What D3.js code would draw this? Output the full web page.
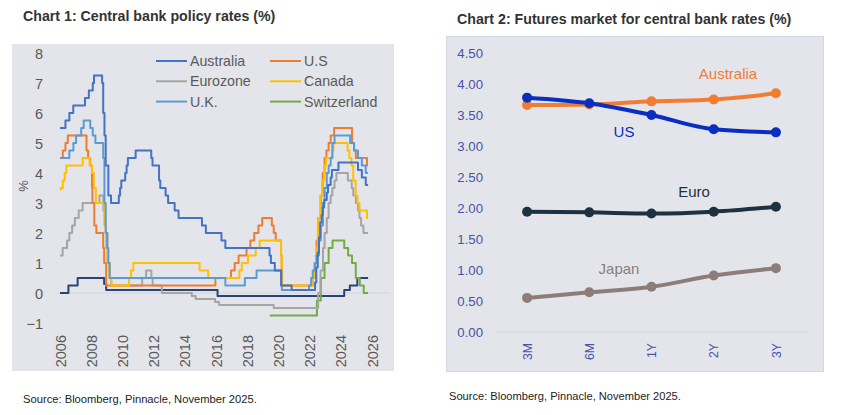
<!DOCTYPE html>
<html><head><meta charset="utf-8">
<script src="https://cdn.jsdelivr.net/npm/d3@7"></script>
<style>body{margin:0;background:#fff;font-family:"Liberation Sans",Arial,sans-serif}</style>
</head><body>
<svg id="c" width="842" height="415"></svg>
<script>
// ---------- Chart 1 data: [decimal year, policy rate %] (step changes) ----------
const australia = [[2006.0,5.5],[2006.35,5.75],[2006.6,6.0],[2006.85,6.25],[2007.6,6.5],[2007.85,6.75],[2008.1,7.0],[2008.18,7.25],[2008.7,7.0],[2008.77,6.0],[2008.85,5.25],[2008.93,4.25],[2009.1,3.25],[2009.27,3.0],[2009.77,3.25],[2009.85,3.5],[2009.93,3.75],[2010.18,4.0],[2010.27,4.25],[2010.35,4.5],[2010.85,4.75],[2011.85,4.5],[2011.93,4.25],[2012.35,3.75],[2012.43,3.5],[2012.77,3.25],[2012.93,3.0],[2013.35,2.75],[2013.6,2.5],[2015.1,2.25],[2015.35,2.0],[2016.35,1.75],[2016.6,1.5],[2019.43,1.25],[2019.52,1.0],[2019.77,0.75],[2020.18,0.25],[2020.85,0.1],[2022.35,0.35],[2022.43,0.85],[2022.52,1.35],[2022.6,1.85],[2022.68,2.35],[2022.77,2.6],[2022.85,2.85],[2022.93,3.1],[2023.1,3.35],[2023.18,3.6],[2023.35,3.85],[2023.43,4.1],[2023.85,4.35],[2025.1,4.1],[2025.35,3.85],[2025.6,3.6],[2025.75,3.6]];
const us = [[2006.0,4.5],[2006.18,4.75],[2006.35,5.0],[2006.5,5.25],[2007.7,4.75],[2007.8,4.5],[2007.93,4.25],[2008.05,3.5],[2008.08,3.0],[2008.2,2.25],[2008.33,2.0],[2008.77,1.5],[2008.83,1.0],[2008.96,0.25],[2015.96,0.5],[2016.96,0.75],[2017.2,1.0],[2017.45,1.25],[2017.96,1.5],[2018.2,1.75],[2018.45,2.0],[2018.72,2.25],[2018.96,2.5],[2019.58,2.25],[2019.7,2.0],[2019.83,1.75],[2020.17,1.25],[2020.21,0.25],[2022.2,0.5],[2022.35,1.0],[2022.45,1.75],[2022.57,2.5],[2022.72,3.25],[2022.84,4.0],[2022.96,4.5],[2023.08,4.75],[2023.22,5.0],[2023.35,5.25],[2023.57,5.5],[2024.72,5.0],[2024.85,4.75],[2024.96,4.5],[2025.68,4.25],[2025.75,4.25]];
const eurozone = [[2006.0,1.25],[2006.17,1.5],[2006.45,1.75],[2006.6,2.0],[2006.78,2.25],[2006.95,2.5],[2007.2,2.75],[2007.45,3.0],[2008.53,3.25],[2008.78,2.75],[2008.86,2.25],[2008.94,2.0],[2009.05,1.0],[2009.2,0.5],[2009.28,0.25],[2011.27,0.5],[2011.52,0.75],[2011.86,0.5],[2011.94,0.25],[2012.53,0.0],[2014.45,-0.1],[2014.7,-0.2],[2015.94,-0.3],[2016.2,-0.4],[2019.7,-0.5],[2022.55,0.0],[2022.7,0.75],[2022.86,1.5],[2022.96,2.0],[2023.1,2.5],[2023.22,3.0],[2023.35,3.25],[2023.46,3.5],[2023.6,3.75],[2023.72,4.0],[2024.45,3.75],[2024.7,3.5],[2024.8,3.25],[2024.96,3.0],[2025.1,2.75],[2025.2,2.5],[2025.3,2.25],[2025.45,2.0],[2025.75,2.0]];
const canada = [[2006.0,3.45],[2006.05,3.5],[2006.18,3.75],[2006.3,4.0],[2006.4,4.25],[2007.45,4.5],[2007.9,4.25],[2008.05,4.0],[2008.17,3.5],[2008.3,3.0],[2008.85,2.5],[2008.9,2.25],[2008.95,1.5],[2009.05,1.0],[2009.17,0.5],[2009.3,0.25],[2010.43,0.5],[2010.55,0.75],[2010.7,1.0],[2014.95,0.75],[2015.5,0.5],[2017.5,0.75],[2017.65,1.0],[2018.05,1.25],[2018.55,1.5],[2018.8,1.75],[2020.17,1.25],[2020.21,0.75],[2020.24,0.25],[2022.2,0.5],[2022.28,1.0],[2022.43,1.5],[2022.53,2.5],[2022.68,3.25],[2022.8,3.75],[2022.93,4.25],[2023.05,4.5],[2023.45,4.75],[2023.53,5.0],[2024.43,4.75],[2024.55,4.5],[2024.68,4.25],[2024.8,3.75],[2024.95,3.25],[2025.07,3.0],[2025.2,2.75],[2025.68,2.5],[2025.75,2.5]];
const uk = [[2006.0,4.5],[2006.6,4.75],[2006.86,5.0],[2007.03,5.25],[2007.36,5.5],[2007.52,5.75],[2007.94,5.5],[2008.1,5.25],[2008.27,5.0],[2008.77,4.5],[2008.85,3.0],[2008.93,2.0],[2009.02,1.5],[2009.1,1.0],[2009.18,0.5],[2016.6,0.25],[2017.85,0.5],[2018.6,0.75],[2020.18,0.25],[2020.22,0.1],[2021.96,0.25],[2022.1,0.5],[2022.2,0.75],[2022.35,1.0],[2022.45,1.25],[2022.6,1.75],[2022.72,2.25],[2022.85,3.0],[2022.96,3.5],[2023.1,4.0],[2023.22,4.25],[2023.35,4.5],[2023.46,5.0],[2023.6,5.25],[2024.6,5.0],[2024.85,4.75],[2025.1,4.5],[2025.35,4.25],[2025.6,4.0],[2025.75,4.0]];
const switzerland = [[2019.45,-0.75],[2022.47,-0.25],[2022.72,0.5],[2022.96,1.0],[2023.22,1.5],[2023.47,1.75],[2024.22,1.5],[2024.47,1.25],[2024.72,1.0],[2024.96,0.5],[2025.22,0.25],[2025.47,0.0],[2025.75,0.0]];
const japan = [[2006.0,0.0],[2006.54,0.25],[2007.13,0.5],[2008.83,0.3],[2008.96,0.1],[2016.1,-0.1],[2024.22,0.1],[2024.58,0.25],[2025.06,0.5],[2025.75,0.5]];

const seriesNames1 = ["Japan","Switzerland","Eurozone","U.S","Canada","U.K.","Australia"];
const legendOrder1 = ["Australia","U.S","Eurozone","Canada","U.K.","Switzerland"];
const yTicks1 = [-1,0,1,2,3,4,5,6,7,8];
const xTicks1 = [2006,2008,2010,2012,2014,2016,2018,2020,2022,2024,2026];

// ---------- Chart 2 data ----------
const tenors = ["3M","6M","1Y","2Y","3Y"];
const futUS = [3.78,3.69,3.50,3.27,3.22];
const futAustralia = [3.66,3.67,3.72,3.75,3.85];
const futEuro = [1.94,1.93,1.91,1.94,2.02];
const futJapan = [0.55,0.64,0.73,0.91,1.03];
const yTicks2 = [0,0.5,1,1.5,2,2.5,3,3.5,4,4.5];

// ---------- drawing ----------
const svg = d3.select("#c");
const FONT = '"Liberation Sans", Arial, sans-serif';

// Chart 1
const data1 = {Australia:australia,"U.S":us,Eurozone:eurozone,Canada:canada,"U.K.":uk,Switzerland:switzerland,Japan:japan};
const col1 = {Australia:"#4472C4","U.S":"#ED7D31",Eurozone:"#A5A5A5",Canada:"#FFC000","U.K.":"#5B9BD5",Switzerland:"#70AD47",Japan:"#264478"};

svg.append("text").attr("x",23).attr("y",21).attr("font-family",FONT).attr("font-weight","bold")
  .attr("font-size",14.2).attr("fill","#333333").text("Chart 1: Central bank policy rates (%)");
svg.append("rect").attr("x",12).attr("y",44).attr("width",382).attr("height",327).attr("fill","#E4E5EA");

const x1 = d3.scaleLinear().domain([2006,2026]).range([60,372]);
const y1 = d3.scaleLinear().domain([-1,8]).range([323,53]);
const g1 = svg.append("g");

// zero line
g1.append("line").attr("x1",58).attr("x2",390).attr("y1",y1(0)).attr("y2",y1(0)).attr("stroke","#D4D5DA").attr("stroke-width",1);

const yAx1 = d3.axisLeft(y1).tickValues(yTicks1).tickSize(0).tickPadding(0).tickFormat(d3.format("d"));
g1.append("g").attr("transform","translate(43,0)").call(yAx1).call(g=>{
  g.select(".domain").remove();
  g.selectAll("text").attr("font-family",FONT).attr("font-size",14.5).attr("fill","#595959").attr("dy","0.35em");
});
const xAx1 = d3.axisBottom(x1).tickValues(xTicks1).tickSize(0).tickFormat(d3.format("d"));
g1.append("g").attr("transform","translate(0,335)").call(xAx1).call(g=>{
  g.select(".domain").remove();
  g.selectAll("text").attr("font-family",FONT).attr("font-size",14.5).attr("fill","#595959")
    .attr("text-anchor","end").attr("transform","rotate(-90)").attr("x",0).attr("y",0).attr("dx",0).attr("dy","0.35em");
});
svg.append("text").attr("transform","translate(28,186) rotate(-90)").attr("text-anchor","middle")
  .attr("font-family",FONT).attr("font-size",13).attr("fill","#595959").text("%");

const line1 = d3.line().curve(d3.curveStepAfter).x(d=>x1(d[0])).y(d=>y1(d[1]));
seriesNames1.forEach(n=>{
  g1.append("path").datum(data1[n]).attr("d",line1).attr("fill","none")
    .attr("stroke",col1[n]).attr("stroke-width",2).attr("stroke-linejoin","round");
});

// legend
const lg = svg.append("g");
legendOrder1.forEach((n,i)=>{
  const col = i%2, row = Math.floor(i/2);
  const lx = col===0?156:270, ly = 61 + row*20.3;
  lg.append("line").attr("x1",lx).attr("x2",lx+31).attr("y1",ly).attr("y2",ly).attr("stroke",col1[n]).attr("stroke-width",2);
  lg.append("text").attr("x",lx+34).attr("y",ly).attr("dy","0.35em").attr("font-family",FONT)
    .attr("font-size",14.2).attr("fill","#595959").text(n);
});

svg.append("text").attr("x",23).attr("y",403).attr("font-family",FONT).attr("font-size",11.2).attr("fill","#222").text("Source: Bloomberg, Pinnacle, November 2025.");

// Chart 2
svg.append("text").attr("x",457).attr("y",24).attr("font-family",FONT).attr("font-weight","bold")
  .attr("font-size",14.2).attr("fill","#333333").text("Chart 2: Futures market for central bank rates (%)");
svg.append("rect").attr("x",446.5).attr("y",36.5).attr("width",377).attr("height",335).attr("fill","#E4E5EB").attr("stroke","#D3D6E4").attr("stroke-width",1);

const x2 = d3.scalePoint().domain(tenors).range([496,807]).padding(0.5);
const y2 = d3.scaleLinear().domain([0,4.5]).range([332,53]);
const g2 = svg.append("g");
g2.append("line").attr("x1",496).attr("x2",807).attr("y1",y2(0)).attr("y2",y2(0)).attr("stroke","#D0D3E2").attr("stroke-width",1);
const yAx2 = d3.axisLeft(y2).tickValues(yTicks2).tickSize(0).tickPadding(0).tickFormat(d3.format(".2f"));
g2.append("g").attr("transform","translate(483,0)").call(yAx2).call(g=>{
  g.select(".domain").remove();
  g.selectAll("text").attr("font-family",FONT).attr("font-size",13.2).attr("fill","#4652A8").attr("dy","0.35em");
});
const xAx2 = d3.axisBottom(x2).tickSize(0);
g2.append("g").attr("transform","translate(0,343)").call(xAx2).call(g=>{
  g.select(".domain").remove();
  g.selectAll("text").attr("font-family",FONT).attr("font-size",12.2).attr("fill","#4652A8")
    .attr("text-anchor","end").attr("transform","rotate(-90)").attr("x",0).attr("y",0).attr("dx",0).attr("dy","0.35em");
});

const fut = [
  {name:"Japan",vals:futJapan,color:"#8C7D79",lx:619,ly:274},
  {name:"Euro",vals:futEuro,color:"#1E3142",lx:694,ly:197},
  {name:"Australia",vals:futAustralia,color:"#F07D32",lx:728,ly:79},
  {name:"US",vals:futUS,color:"#0A2EC0",lx:624,ly:137}
];
const line2 = d3.line().curve(d3.curveMonotoneX).x(d=>x2(d.t)).y(d=>y2(d.v));
fut.forEach(s=>{
  const pts = tenors.map((t,i)=>({t,v:s.vals[i]}));
  g2.append("path").datum(pts).attr("d",line2).attr("fill","none").attr("stroke",s.color).attr("stroke-width",4).attr("stroke-linecap","round");
  g2.selectAll(null).data(pts).enter().append("circle").attr("cx",d=>x2(d.t)).attr("cy",d=>y2(d.v)).attr("r",5).attr("fill",s.color);
});
fut.forEach(s=>{
  g2.append("text").attr("x",s.lx).attr("y",s.ly).attr("text-anchor","middle").attr("font-family",FONT)
    .attr("font-size",15).attr("fill",s.color).text(s.name);
});

svg.append("text").attr("x",449).attr("y",400).attr("font-family",FONT).attr("font-size",11.1).attr("fill","#222").text("Source: Bloomberg, Pinnacle, November 2025.");
</script>
</body></html>
